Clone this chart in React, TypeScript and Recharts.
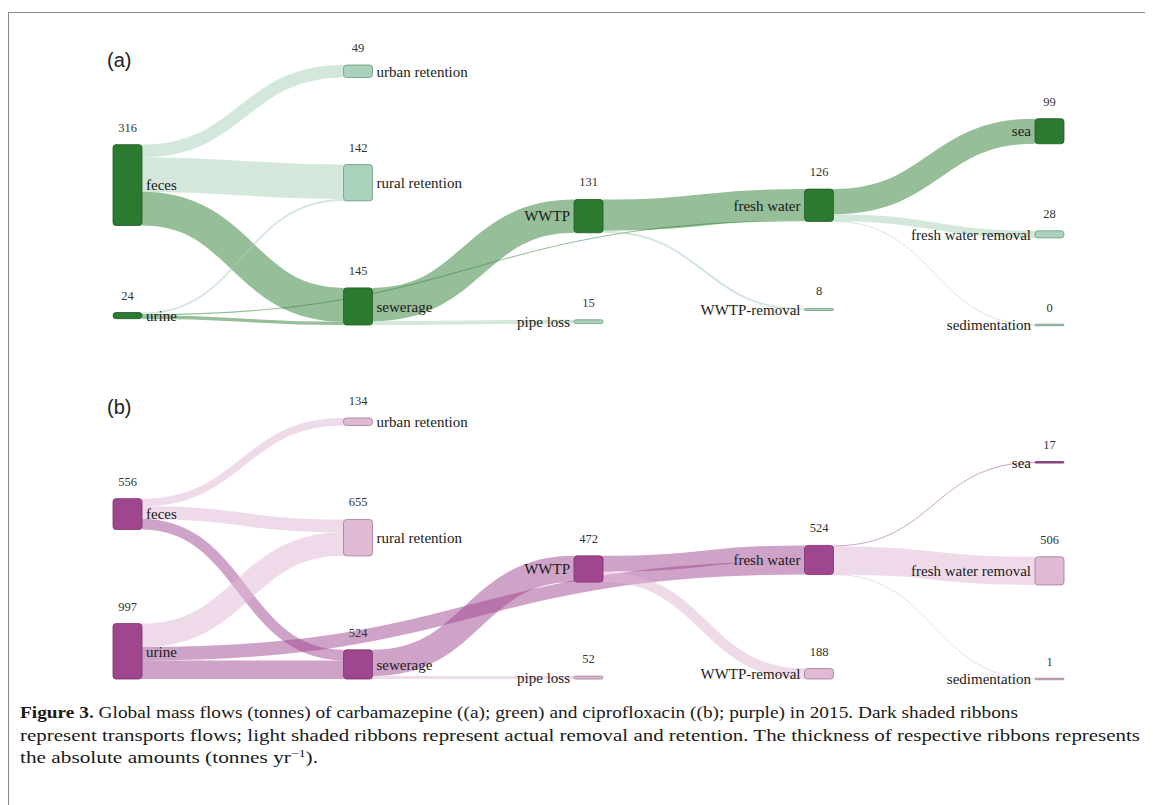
import React from "react"
import { Sankey } from "recharts"

// node order shared by both panels (order within a column is kept)
const nodeNames = [
  "feces",
  "urine",
  "urban retention",
  "rural retention",
  "sewerage",
  "WWTP",
  "pipe loss",
  "fresh water",
  "WWTP-removal",
  "sea",
  "fresh water removal",
  "sedimentation",
]

// sinks that stand for removal / retention (light shading)
const removalNodes = ["urban retention", "rural retention", "pipe loss", "WWTP-removal", "fresh water removal", "sedimentation"]

// flows: source index -> target index
const linkSources = [0, 0, 0, 1, 1, 1, 4, 4, 5, 5, 7, 7, 7]
const linkTargets = [2, 3, 4, 3, 4, 7, 5, 6, 7, 8, 9, 10, 11]

// tonnes per year, (a) carbamazepine
const carbamazepineFlows = [49, 135, 132, 7, 13, 4, 130, 15, 122, 8, 98, 28, 0.3]
const carbamazepineTotals = ["316", "24", "49", "142", "145", "131", "15", "126", "8", "99", "28", "0"]

// tonnes per year, (b) ciprofloxacin
const ciprofloxacinFlows = [134, 232, 190, 423, 334, 240, 472, 52, 284, 188, 17, 506, 1]
const ciprofloxacinTotals = ["556", "997", "134", "655", "524", "472", "52", "524", "188", "17", "506", "1"]

const green = {
  node: "#2b7a30",
  nodeStroke: "#1e5a23",
  lightNode: "#a9d1bc",
  lightStroke: "#6f9a80",
  link: "#2e7d32",
  lightLink: "#a8d0b5",
}

const purple = {
  node: "#a0468f",
  nodeStroke: "#7a2f6c",
  lightNode: "#e0b9d4",
  lightStroke: "#a07a95",
  link: "#a0468f",
  lightLink: "#e0b6d6",
}

type Palette = typeof green

const serif = { fontFamily: "Liberation Serif, Times New Roman, serif" }
const sans = { fontFamily: "Liberation Sans, Arial, sans-serif" }

function buildData(flows: number[], totals: string[]) {
  return {
    nodes: nodeNames.map((name, i) => ({
      name,
      total: totals[i],
      light: removalNodes.includes(name),
    })),
    links: linkSources.map((source, i) => ({
      source,
      target: linkTargets[i],
      value: flows[i],
      light: removalNodes.includes(nodeNames[linkTargets[i]]),
    })),
  }
}

const makeNode = (palette: Palette) => (props: any) => {
  const { x, y, width, height, payload } = props
  const light = payload.light
  const h = Math.max(height, 1.5)
  const top = y + height / 2 - h / 2
  // first two columns carry their names on the right, the rest on the left
  const labelRight = payload.depth < 2
  return (
    <g>
      <rect
        x={x}
        y={top}
        width={width}
        height={h}
        rx={h > 4 ? 3 : h / 2}
        fill={light ? palette.lightNode : palette.node}
        stroke={light ? palette.lightStroke : palette.nodeStroke}
        strokeWidth={0.8}
      />
      <text x={x + width / 2} y={y - 13} textAnchor="middle" fontSize={12.5} style={serif} fill="#333">
        {payload.total}
      </text>
      <text
        x={labelRight ? x + width + 4 : x - 4}
        y={y + height / 2}
        dy="0.35em"
        textAnchor={labelRight ? "start" : "end"}
        fontSize={15}
        style={serif}
        fill="#1a1a1a"
      >
        {payload.name}
      </text>
    </g>
  )
}

const makeLink = (palette: Palette) => (props: any) => {
  const { sourceX, sourceY, sourceControlX, targetX, targetY, targetControlX, linkWidth, payload } = props
  const light = payload.light
  return (
    <path
      d={`M${sourceX},${sourceY} C${sourceControlX},${sourceY} ${targetControlX},${targetY} ${targetX},${targetY}`}
      fill="none"
      stroke={light ? palette.lightLink : palette.link}
      strokeOpacity={0.5}
      strokeWidth={Math.max(linkWidth, 1)}
    />
  )
}

function FlowPanel({ flows, totals, palette, padding, top, marginTop, marginBottom }: any) {
  const data = buildData(flows, totals)
  return (
    <div style={{ position: "absolute", left: 0, top }}>
      <Sankey
        width={1145}
        height={300}
        data={data}
        nodeWidth={29}
        nodePadding={padding}
        iterations={32}
        sort={false}
        linkCurvature={0.5}
        margin={{ top: marginTop, right: 89, bottom: marginBottom, left: 105 }}
        {...({ align: "left" } as any)}
        node={makeNode(palette)}
        link={makeLink(palette)}
      />
    </div>
  )
}

export default function App() {
  return (
    <div style={{ position: "relative", width: 1145, height: 797, overflow: "hidden" }}>
      <div
        style={{
          position: "absolute",
          left: 0,
          top: 4,
          width: 1200,
          height: 900,
          borderTop: "1.5px solid #8a8a8a",
          borderLeft: "1.5px solid #8a8a8a",
        }}
      />
      <FlowPanel
        flows={carbamazepineFlows}
        totals={carbamazepineTotals}
        palette={green}
        padding={87}
        top={32}
        marginTop={25}
        marginBottom={15}
      />
      <FlowPanel
        flows={ciprofloxacinFlows}
        totals={ciprofloxacinTotals}
        palette={purple}
        padding={94}
        top={382}
        marginTop={28}
        marginBottom={11}
      />
      <svg width={1145} height={797} style={{ position: "absolute", left: 0, top: 0, pointerEvents: "none" }}>
        <text x={99} y={59} fontSize={20} style={sans} fill="#222">
          (a)
        </text>
        <text x={99} y={406} fontSize={20} style={sans} fill="#222">
          (b)
        </text>
        <g style={serif} fontSize={17} fill="#1a1a1a">
          <text x={12} y={710} textLength={998} lengthAdjust="spacingAndGlyphs">
            <tspan fontWeight="bold">Figure 3.</tspan> Global mass flows (tonnes) of carbamazepine ((a); green) and
            ciprofloxacin ((b); purple) in 2015. Dark shaded ribbons
          </text>
          <text x={12} y={733} textLength={1120} lengthAdjust="spacingAndGlyphs">
            represent transports flows; light shaded ribbons represent actual removal and retention. The thickness of
            respective ribbons represents
          </text>
          <text x={12} y={755} textLength={298} lengthAdjust="spacingAndGlyphs">
            the absolute amounts (tonnes yr
            <tspan dy={-6} fontSize={11}>
              −1
            </tspan>
            <tspan dy={6}>).</tspan>
          </text>
        </g>
      </svg>
    </div>
  )
}
